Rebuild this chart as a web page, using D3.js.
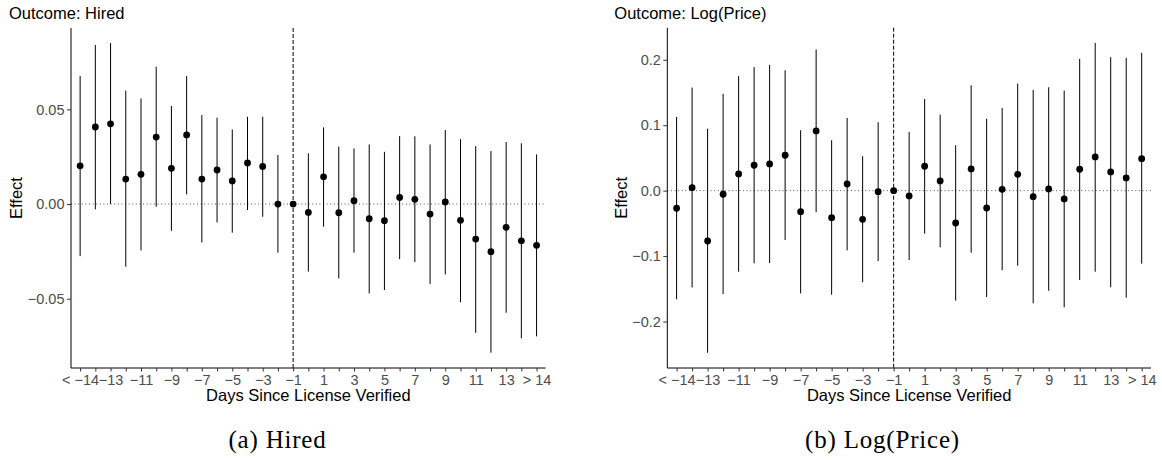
<!DOCTYPE html>
<html><head><meta charset="utf-8">
<script src="https://cdn.jsdelivr.net/npm/d3@7"></script>
<style>
body{margin:0;background:#fff}
svg{display:block}
text{font-family:"Liberation Sans",Arial,Helvetica,sans-serif}
</style>
</head><body>
<svg id="chart" width="1162" height="460"></svg>
<script>
// ---- data ----
const categories = ["< −14","−14","−13","−12","−11","−10","−9","−8","−7","−6","−5","−4","−3","−2","−1",
  "0","1","2","3","4","5","6","7","8","9","10","11","12","13","14","> 14"];
const tickLabels = categories.filter((d,i)=>i%2===0);
const refCategory = "−1";

const hiredTitle = "Outcome: Hired";
const hiredCaption = "(a) Hired";
const hiredYTicks = [-0.05, 0, 0.05];
const hiredYLimits = [-0.0866, 0.0930];
const hiredEst = [0.0202,0.0407,0.0424,0.0132,0.0157,0.0354,0.0189,0.0365,0.0132,0.0180,0.0122,0.0217,0.0199,0.0000,0.0000,
  -0.0044,0.0144,-0.0046,0.0018,-0.0077,-0.0088,0.0035,0.0025,-0.0053,0.0011,-0.0086,-0.0185,-0.0252,-0.0123,-0.0194,-0.0218];
const hiredHi = [0.0676,0.0840,0.0850,0.0599,0.0558,0.0725,0.0518,0.0676,0.0470,0.0456,0.0394,0.0461,0.0461,0.0259,null,
  0.0268,0.0405,0.0303,0.0294,0.0315,0.0276,0.0359,0.0358,0.0315,0.0391,0.0343,0.0306,0.0280,0.0328,0.0321,0.0262];
const hiredLo = [-0.0275,-0.0028,0.0000,-0.0331,-0.0245,-0.0014,-0.0141,0.0051,-0.0203,-0.0097,-0.0151,-0.0032,-0.0067,-0.0257,null,
  -0.0357,-0.0120,-0.0393,-0.0257,-0.0472,-0.0454,-0.0291,-0.0306,-0.0423,-0.0372,-0.0519,-0.0680,-0.0785,-0.0574,-0.0709,-0.0699];

const priceTitle = "Outcome: Log(Price)";
const priceCaption = "(b) Log(Price)";
const priceYTicks = [-0.2, -0.1, 0, 0.1, 0.2];
const priceYLimits = [-0.271, 0.249];
const priceEst = [-0.0269,0.0046,-0.0769,-0.0055,0.0255,0.0388,0.0408,0.0541,-0.0321,0.0913,-0.0413,0.0102,-0.0438,-0.0015,0.0000,
  -0.0081,0.0373,0.0148,-0.0494,0.0332,-0.0265,0.0021,0.0250,-0.0092,0.0026,-0.0127,0.0327,0.0515,0.0286,0.0194,0.0489];
const priceHi = [0.1127,0.1575,0.0948,0.1480,0.1750,0.1887,0.1922,0.1840,0.0923,0.2157,0.0770,0.1110,0.0526,0.1046,null,
  0.0898,0.1400,0.1162,0.0694,0.1610,0.1100,0.1264,0.1636,0.1540,0.1580,0.1530,0.2014,0.2258,0.2040,0.2029,0.2106];
const priceLo = [-0.1660,-0.1480,-0.2477,-0.1580,-0.1239,-0.1110,-0.1106,-0.0754,-0.1570,-0.0330,-0.1590,-0.0912,-0.1400,-0.1075,null,
  -0.1060,-0.0657,-0.0866,-0.1680,-0.0948,-0.1625,-0.1217,-0.1147,-0.1722,-0.1530,-0.1783,-0.1365,-0.1239,-0.1477,-0.1636,-0.1116];

const xTitle = "Days Since License Verified";
const yTitle = "Effect";

// ---- layout ----
const svg = d3.select("#chart");

function drawPanel(cfg){
  const g = svg.append("g");
  const x = d3.scalePoint().domain(categories).range([cfg.x0, cfg.x1]).padding(0.6);
  const y = d3.scaleLinear().domain(cfg.limits).range([cfg.y1, cfg.y0]);
  const rows = categories.map((c,i)=>({c, est:cfg.est[i], lo:cfg.lo[i], hi:cfg.hi[i]}));

  // zero reference line (dotted)
  g.append("line")
    .attr("x1", cfg.x0).attr("x2", cfg.x1)
    .attr("y1", y(0)).attr("y2", y(0))
    .attr("stroke","#555").attr("stroke-width",1).attr("stroke-dasharray","1,2.6");

  // vertical dashed line at reference period
  g.append("line")
    .attr("x1", x(refCategory)).attr("x2", x(refCategory))
    .attr("y1", cfg.y0).attr("y2", cfg.y1)
    .attr("stroke","#000").attr("stroke-width",1).attr("stroke-dasharray","4,2");

  // error bars
  g.selectAll("line.ci").data(rows.filter(d=>d.lo!==null)).enter().append("line")
    .attr("class","ci")
    .attr("x1", d=>x(d.c)).attr("x2", d=>x(d.c))
    .attr("y1", d=>y(d.lo)).attr("y2", d=>y(d.hi))
    .attr("stroke","#000").attr("stroke-width",1);

  // points
  g.selectAll("circle").data(rows).enter().append("circle")
    .attr("cx", d=>x(d.c)).attr("cy", d=>y(d.est)).attr("r",3.4).attr("fill","#000");

  // axes
  const xAxis = d3.axisBottom(x).tickValues(categories).tickSize(3.5).tickPadding(3)
    .tickFormat(d=> tickLabels.includes(d) ? d : "");
  const xa = g.append("g").attr("transform",`translate(0,${cfg.y1})`).call(xAxis);
  xa.select(".domain").attr("d", `M${cfg.x0},0H${cfg.x1}`).attr("stroke","#000");
  xa.selectAll(".tick line").attr("stroke","#333");
  xa.selectAll(".tick text").attr("fill","#4d4d4d").style("font-size","14.5px")
    .style("font-family","'Liberation Sans',Arial,sans-serif");

  const yAxis = d3.axisLeft(y).tickValues(cfg.yticks).tickSize(4).tickPadding(2.5)
    .tickFormat(d=> d3.format(cfg.fmt)(d).replace("-","−"));
  const ya = g.append("g").attr("transform",`translate(${cfg.x0},0)`).call(yAxis);
  ya.select(".domain").attr("d", `M0,${cfg.y0}V${cfg.y1}`).attr("stroke","#000");
  ya.selectAll(".tick line").attr("stroke","#333");
  ya.selectAll(".tick text").attr("fill","#4d4d4d").style("font-size","14.5px")
    .style("font-family","'Liberation Sans',Arial,sans-serif");

  // titles
  g.append("text").attr("x", cfg.titleX).attr("y", 19).text(cfg.title)
    .style("font-size","16.5px").attr("fill","#000");
  g.append("text").attr("x", (cfg.x0+cfg.x1)/2).attr("y", 401).attr("text-anchor","middle")
    .text(xTitle).style("font-size","16.5px").attr("fill","#000");
  g.append("text").attr("transform",`translate(${cfg.yTitleX},${(cfg.y0+cfg.y1)/2}) rotate(-90)`)
    .attr("text-anchor","middle").text(yTitle).style("font-size","16.5px").attr("fill","#000");
  g.append("text").attr("x", cfg.capX).attr("y", 448).attr("text-anchor","middle")
    .text(cfg.caption).style("font-family","'Liberation Serif','Times New Roman',serif")
    .style("font-size","25px").style("letter-spacing","0.8px").attr("fill","#000");
}

drawPanel({x0:71, x1:545.7, y0:28, y1:368, limits:hiredYLimits, yticks:hiredYTicks, fmt:".2f",
  est:hiredEst, lo:hiredLo, hi:hiredHi, title:hiredTitle, caption:hiredCaption,
  titleX:9, yTitleX:21.5, capX:277.5});
drawPanel({x0:667.3, x1:1151, y0:27.7, y1:368, limits:priceYLimits, yticks:priceYTicks, fmt:".1f",
  est:priceEst, lo:priceLo, hi:priceHi, title:priceTitle, caption:priceCaption,
  titleX:614.3, yTitleX:626.5, capX:882.5});
</script>
</body></html>
